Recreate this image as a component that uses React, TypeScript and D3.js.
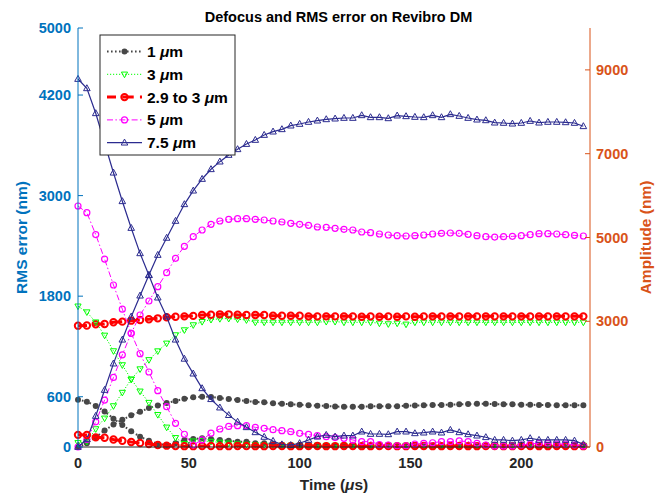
import React from 'react';
import * as d3 from 'd3';

const W = 657;
const H = 496;

const time = [0,4,8,12,16,20,24,28,32,36,40,44,48,52,56,60,64,68,72,76,80,84,88,92,96,100,104,108,112,116,120,124,128,132,136,140,144,148,152,156,160,164,168,172,176,180,184,188,192,196,200,204,208,212,216,220,224,228];

// RMS error (left axis, nm)
const rms1 = [565,541,490,425,338,262,189,123,75,36,24,45,84,95,104,95,84,75,64,64,44,44,36,24,24,12,12,10,10,8,8,10,10,8,8,10,10,8,8,8,10,10,8,8,8,8,10,10,8,8,8,8,10,10,8,8,8,8];
const rms3 = [1680,1610,1490,1332,1146,979,808,665,530,385,235,110,40,70,75,65,55,45,35,30,25,22,20,20,18,18,20,20,18,18,20,20,18,18,20,20,18,18,20,20,18,18,20,20,18,18,20,20,18,18,20,20,18,18,20,20,18,18];
const rms29 = [145,143,115,110,90,75,60,48,36,24,16,12,10,10,12,12,10,10,12,12,10,10,12,12,10,10,12,12,10,10,12,12,10,10,12,12,10,10,12,12,10,10,12,12,10,10,12,12,10,10,12,12,10,10,12,12,10,10];
const rms5 = [2876,2796,2535,2242,1933,1645,1357,1114,895,672,481,283,152,24,84,165,215,245,255,255,235,223,207,195,183,163,150,135,123,112,104,84,64,64,30,24,15,15,36,44,51,64,64,72,64,44,24,12,12,12,24,36,44,44,36,36,24,12];
const rms75 = [4391,4280,3982,3628,3273,2932,2613,2311,2049,1782,1555,1280,1052,875,700,570,470,380,300,235,175,120,72,30,22,45,84,123,143,123,135,135,183,155,155,151,183,183,163,171,183,171,203,175,151,135,116,84,84,75,84,104,84,84,84,84,75,32];

// Amplitude (right axis, nm)
const amp1 = [0,88,235,394,537,652,756,843,930,990,1050,1100,1150,1190,1200,1195,1170,1145,1122,1098,1074,1066,1042,1034,1019,1011,995,987,979,965,962,962,962,970,970,975,975,985,990,995,1000,1005,1010,1018,1026,1030,1030,1026,1018,1018,1010,1010,1002,1002,995,995,995,995];
const amp3 = [100,130,430,685,980,1300,1615,1860,2080,2290,2475,2673,2792,2912,2990,3040,3060,3065,3050,3031,2976,2976,2976,2976,2976,2976,2976,2976,2992,2992,2976,2976,2976,2976,2952,2936,2952,2928,2976,2976,2976,2976,2976,2976,2976,2976,2976,2976,2976,2976,2976,2976,2976,2976,2976,2976,2976,2976];
const amp29 = [2896,2900,2928,2935,2976,2992,3015,3031,3050,3071,3095,3110,3118,3130,3150,3155,3166,3166,3155,3150,3150,3150,3134,3134,3134,3134,3118,3118,3118,3118,3118,3118,3110,3118,3110,3118,3110,3118,3110,3118,3118,3118,3118,3118,3118,3118,3118,3118,3118,3118,3118,3118,3118,3118,3118,3118,3118,3118];
const amp5 = [0,180,600,1120,1660,2200,2714,3150,3484,3826,4160,4503,4790,5019,5179,5314,5394,5434,5449,5449,5434,5418,5394,5370,5339,5315,5291,5251,5243,5219,5195,5179,5131,5115,5083,5060,5043,5036,5043,5060,5083,5099,5107,5099,5075,5043,5019,5011,5019,5027,5043,5067,5091,5091,5083,5067,5051,5036];
const amp75 = [0,184,740,1360,1990,2560,3110,3611,4105,4582,4990,5394,5792,6117,6396,6628,6810,6969,7105,7230,7327,7446,7526,7582,7669,7709,7757,7788,7820,7836,7852,7852,7916,7868,7868,7844,7908,7892,7876,7868,7916,7868,7940,7900,7852,7812,7796,7740,7733,7716,7733,7780,7740,7757,7757,7748,7733,7654];

const leftTicks = [0, 600, 1800, 3000, 4200, 5000];
const rightTicks = [0, 3000, 5000, 7000, 9000];
const xTicks = [0, 50, 100, 150, 200];
const legendLabels = ['1', '3', '2.9 to 3', '5', '7.5'];

const FONT = '"Liberation Sans", Arial, Helvetica, sans-serif';
const LEFT_C = '#0072BD';
const RIGHT_C = '#D95319';
const AX_C = '#262626';

type Style = { color: string; width: number; dash?: string; dashOffset?: number; marker: string; r: number; mw: number };
const styles: Style[] = [
  { color: '#474747', width: 2, dash: '1.6,2.4', marker: 'dot', r: 3, mw: 0 },
  { color: '#00ff00', width: 1, dash: '1.2,1.8', marker: 'tridown', r: 3.4, mw: 1 },
  { color: '#ff0000', width: 3, dash: '11.5,6.23', dashOffset: 2.5, marker: 'circle', r: 3.2, mw: 2 },
  { color: '#ff00ff', width: 1, dash: '6,2.4,1.5,2.4', marker: 'circle', r: 3, mw: 1.2 },
  { color: '#2b2b8f', width: 1.2, marker: 'triup', r: 3.6, mw: 1 },
];

const rmsSeries = [rms1, rms3, rms29, rms5, rms75];
const ampSeries = [amp1, amp3, amp29, amp5, amp75];

function Marker({ s, cx, cy }: { s: Style; cx: number; cy: number }) {
  if (s.marker === 'dot') return <circle cx={cx} cy={cy} r={s.r} fill={s.color} />;
  if (s.marker === 'circle') return <circle cx={cx} cy={cy} r={s.r} fill="none" stroke={s.color} strokeWidth={s.mw} />;
  const a = s.r;
  const h = a * 1.6;
  if (s.marker === 'triup') {
    const p = `M${cx},${cy - a} L${cx + h / 1.75},${cy + a * 0.65} L${cx - h / 1.75},${cy + a * 0.65} Z`;
    return <path d={p} fill="none" stroke={s.color} strokeWidth={s.mw} />;
  }
  const p = `M${cx},${cy + a} L${cx + h / 1.75},${cy - a * 0.65} L${cx - h / 1.75},${cy - a * 0.65} Z`;
  return <path d={p} fill="none" stroke={s.color} strokeWidth={s.mw} />;
}

export default function App() {
  const x = d3.scaleLinear().domain([0, 231]).range([78, 590]);
  const yL = d3.scaleLinear().domain([0, 5000]).range([447, 28]);
  const yR = d3.scaleLinear().domain([0, 10000]).range([447, 28]);

  const renderSeries = (vals: number[], s: Style, y: d3.ScaleLinear<number, number>, key: string) => {
    const pts: [number, number][] = vals.map((v, i) => [x(time[i]), y(v)]);
    const line = d3.line()(pts) || '';
    return (
      <g key={key}>
        <path d={line} fill="none" stroke={s.color} strokeWidth={s.width} strokeDasharray={s.dash} strokeDashoffset={s.dashOffset} />
        {pts.map((p, i) => <Marker key={i} s={s} cx={p[0]} cy={p[1]} />)}
      </g>
    );
  };

  const legendX = 100, legendY = 35, legendW = 135, legendH = 120;
  const rowY = (i: number) => 51.5 + i * 22.8;

  return (
    <svg width={W} height={H} style={{ position: 'absolute', left: 0, top: 0, background: '#fff' }} fontFamily={FONT}>
      <rect x={0} y={0} width={W} height={H} fill="#fff" />
      {/* series */}
      {ampSeries.map((vals, i) => renderSeries(vals, styles[i], yR, 'a' + i))}
      {rmsSeries.map((vals, i) => renderSeries(vals, styles[i], yL, 'r' + i))}

      {/* x axis */}
      <line x1={x(0)} x2={590} y1={447} y2={447} stroke={AX_C} strokeWidth={1} />
      {xTicks.map(t => (
        <g key={'xt' + t}>
          <line x1={x(t)} x2={x(t)} y1={447} y2={442} stroke={AX_C} strokeWidth={1} />
          <text x={x(t)} y={468} textAnchor="middle" fontSize={14.5} fontWeight="bold" fill={AX_C}>{t}</text>
        </g>
      ))}
      <text x={334} y={490} textAnchor="middle" fontSize={15.5} fontWeight="bold" fill={AX_C}>
        Time (<tspan fontStyle="italic">μ</tspan>s)
      </text>

      {/* left axis */}
      <line x1={78} x2={78} y1={28} y2={447} stroke={LEFT_C} strokeWidth={1} />
      {leftTicks.map(t => (
        <g key={'lt' + t}>
          <line x1={78} x2={83} y1={yL(t)} y2={yL(t)} stroke={LEFT_C} strokeWidth={1} />
          <text x={71} y={yL(t) + 5} textAnchor="end" fontSize={14.5} fontWeight="bold" fill={LEFT_C}>{t}</text>
        </g>
      ))}
      <text transform={`translate(26.5,237.5) rotate(-90)`} textAnchor="middle" fontSize={15.5} fontWeight="bold" fill={LEFT_C}>RMS error (nm)</text>

      {/* right axis */}
      <line x1={590} x2={590} y1={28} y2={447} stroke={RIGHT_C} strokeWidth={1} />
      {rightTicks.map(t => (
        <g key={'rt' + t}>
          <line x1={585} x2={590} y1={yR(t)} y2={yR(t)} stroke={RIGHT_C} strokeWidth={1} />
          <text x={596} y={yR(t) + 5} textAnchor="start" fontSize={14.5} fontWeight="bold" fill={RIGHT_C}>{t}</text>
        </g>
      ))}
      <text transform={`translate(650.5,237.5) rotate(-90)`} textAnchor="middle" fontSize={15.5} fontWeight="bold" fill={RIGHT_C}>Amplitude (nm)</text>

      {/* title */}
      <text x={338.5} y={22} textAnchor="middle" fontSize={14.5} fontWeight="bold" fill="#000">Defocus and RMS error on Revibro DM</text>

      {/* legend */}
      <rect x={legendX} y={legendY} width={legendW} height={legendH} fill="#fff" stroke={AX_C} strokeWidth={1} />
      {legendLabels.map((lab, i) => {
        const s = styles[i];
        const y = rowY(i);
        return (
          <g key={'lg' + i}>
            <line x1={107} x2={142} y1={y} y2={y} stroke={s.color} strokeWidth={s.width} strokeDasharray={s.dash} strokeDashoffset={s.dashOffset} />
            <Marker s={s} cx={124.5} cy={y} />
            <text x={147} y={y + 5.5} fontSize={15.5} fontWeight="bold" fill="#000">
              {lab} <tspan fontStyle="italic">μ</tspan>m
            </text>
          </g>
        );
      })}
    </svg>
  );
}
